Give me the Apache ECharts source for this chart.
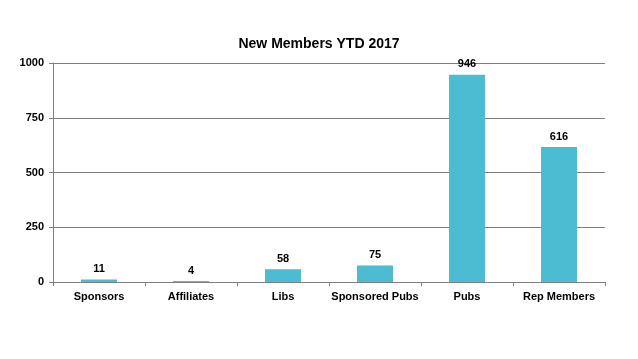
<!DOCTYPE html>
<html><head><meta charset="utf-8">
<script src="https://cdn.jsdelivr.net/npm/echarts@6/dist/echarts.min.js"></script>
<style>html,body{margin:0;padding:0;background:#fff}#c{width:638px;height:359px}</style>
</head><body><div id="c"></div>
<script>
const categories = ["Sponsors", "Affiliates", "Libs", "Sponsored Pubs", "Pubs", "Rep Members"];
const values = [11, 4, 58, 75, 946, 616];
const yTicks = [0, 250, 500, 750, 1000];
const titleText = "New Members YTD 2017";

const chart = echarts.init(document.getElementById('c'), null, {renderer: 'canvas'});
chart.setOption({
  animation: false,
  backgroundColor: '#fff',
  textStyle: {fontFamily: 'Liberation Sans, Arial, sans-serif'},
  title: {
    text: titleText, left: 'center', top: 32,
    textStyle: {fontSize: 14, fontWeight: 'bold', color: '#000', fontFamily: 'Liberation Sans, Arial, sans-serif'}
  },
  grid: {left: 53, right: 33, top: 63, bottom: 77, containLabel: false},
  xAxis: {
    type: 'category', data: categories,
    axisLine: {lineStyle: {color: '#808080', width: 1}},
    axisTick: {show: true, alignWithLabel: false, length: 4, lineStyle: {color: '#808080'}},
    axisLabel: {color: '#000', fontSize: 11, fontWeight: 'bold', margin: 9, interval: 0}
  },
  yAxis: {
    type: 'value', min: yTicks[0], max: yTicks[yTicks.length - 1], interval: 250,
    axisLine: {show: true, lineStyle: {color: '#808080', width: 1}},
    axisTick: {show: true, length: 4, lineStyle: {color: '#808080'}},
    axisLabel: {color: '#000', fontSize: 11, fontWeight: 'bold', margin: 9, formatter: v => String(v)},
    splitLine: {show: true, lineStyle: {color: '#7f7f7f', width: 1}}
  },
  series: [{
    type: 'bar', data: values, barWidth: 36,
    itemStyle: {color: '#4BBCD1'},
    label: {show: true, position: 'top', distance: 5, color: '#000', fontSize: 11, fontWeight: 'bold'}
  }]
});
</script></body></html>
